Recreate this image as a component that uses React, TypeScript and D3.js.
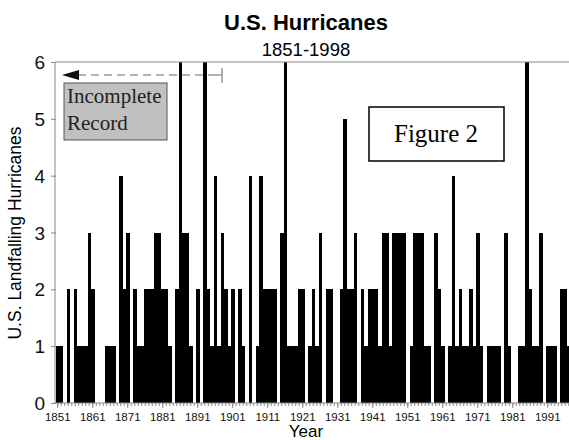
import { useRef, useMemo, useEffect } from 'react';
import * as d3 from 'd3';

// U.S. landfalling hurricanes per year, 1851-1998
const years: number[] = d3.range(1851, 1999);
const counts: number[] = [
  1, 1, 0, 2, 0, 2, 1, 1, 1, 3, // 1851-1860
  2, 0, 0, 0, 1, 1, 1, 0, 4, 2, // 1861-1870
  3, 0, 2, 1, 1, 2, 2, 2, 3, 3, // 1871-1880
  2, 2, 1, 0, 2, 6, 3, 3, 1, 0, // 1881-1890
  2, 0, 6, 2, 1, 4, 1, 3, 2, 1, // 1891-1900
  2, 0, 2, 1, 0, 4, 0, 1, 4, 2, // 1901-1910
  2, 2, 2, 0, 3, 6, 1, 1, 1, 2, // 1911-1920
  2, 0, 1, 2, 1, 3, 0, 2, 2, 0, // 1921-1930
  0, 2, 5, 2, 2, 3, 0, 2, 1, 2, // 1931-1940
  2, 2, 1, 3, 3, 1, 3, 3, 3, 3, // 1941-1950
  0, 1, 3, 3, 3, 1, 1, 0, 3, 2, // 1951-1960
  1, 0, 1, 4, 1, 2, 1, 1, 2, 1, // 1961-1970
  3, 1, 0, 1, 1, 1, 1, 0, 3, 1, // 1971-1980
  0, 0, 1, 1, 6, 2, 1, 1, 3, 0, // 1981-1990
  1, 1, 1, 0, 2, 2, 1, 3,       // 1991-1998
];
const tickYears: number[] = [1851, 1861, 1871, 1881, 1891, 1901, 1911, 1921, 1931, 1941, 1951, 1961, 1971, 1981, 1991];
const yTicks: number[] = [0, 1, 2, 3, 4, 5, 6];

const sans = '"Liberation Sans", Arial, sans-serif';
const serif = '"Liberation Serif", "Times New Roman", serif';

const App = () => {
  const width = 569;
  const height = 440;
  const left = 56;
  const top = 62;
  const bottom = 403;
  const axisX = 55;

  const axesRef = useRef<SVGGElement>(null);

  const xScale = useMemo(() => d3.scaleBand<number>()
    .domain(years)
    .range([left, left + years.length * 3.5])
    .padding(0), []);

  const yScale = useMemo(() => d3.scaleLinear()
    .domain([0, 6])
    .range([bottom, top])
    .clamp(true), []);

  useEffect(() => {
    const g = d3.select(axesRef.current);
    g.selectAll('*').remove();
    const gray = '#8a8a8a';

    // Y AXIS
    g.append('g')
      .attr('transform', `translate(${axisX},0)`)
      .call(d3.axisLeft(yScale).tickValues(yTicks).tickSize(4).tickPadding(8).tickFormat(d3.format('d')))
      .call(s => s.select('.domain').attr('stroke', gray).attr('d', `M0,${top}V${bottom}`))
      .call(s => s.selectAll('.tick line').attr('stroke', gray).attr('x2', -4).attr('x1', 1))
      .call(s => s.selectAll('.tick text')
        .attr('font-family', sans).attr('font-size', 19).attr('fill', '#111').attr('x', -10).attr('dy', '0.35em'));

    // top frame line
    g.append('line')
      .attr('x1', axisX).attr('x2', width).attr('y1', top).attr('y2', top)
      .attr('stroke', gray);

    // X AXIS minor (every year)
    g.append('g')
      .attr('transform', `translate(0,${bottom})`)
      .call(d3.axisBottom(xScale).tickValues(years).tickSize(3).tickFormat(() => ''))
      .call(s => s.select('.domain').attr('stroke', gray).attr('d', `M${axisX},0H${width}`))
      .call(s => s.selectAll('.tick line').attr('stroke', gray));

    // X AXIS major
    g.append('g')
      .attr('transform', `translate(0,${bottom})`)
      .call(d3.axisBottom(xScale).tickValues(tickYears).tickSize(5).tickPadding(5))
      .call(s => s.select('.domain').remove())
      .call(s => s.selectAll('.tick line').attr('stroke', gray))
      .call(s => s.selectAll('.tick text')
        .attr('font-family', sans).attr('font-size', 11.5).attr('fill', '#111'));
  }, [xScale, yScale]);

  const bars = years.map((yr, i) => (
    counts[i] > 0 ? (
      <rect
        key={yr}
        x={xScale(yr)}
        y={yScale(counts[i])}
        width={xScale.bandwidth()}
        height={bottom - yScale(counts[i])}
        fill="#000"
        shapeRendering="crispEdges"
      />
    ) : null
  ));

  return (
    <svg width={width} height={height} style={{ position: 'absolute', left: 0, top: 0, background: '#fff' }}>
      <rect x={0} y={0} width={width} height={height} fill="#fff" />
      <text x={306} y={30} textAnchor="middle" fontFamily={sans} fontWeight="bold" fontSize={22}>U.S. Hurricanes</text>
      <text x={306} y={56} textAnchor="middle" fontFamily={sans} fontSize={18.5}>1851-1998</text>

      <g>{bars}</g>
      <g ref={axesRef} />

      <text x={306} y={437} textAnchor="middle" fontFamily={sans} fontSize={17}>Year</text>
      <text transform="translate(21,233) rotate(-90)" textAnchor="middle" fontFamily={sans} fontSize={17.5}>
        U.S. Landfalling Hurricanes
      </text>

      {/* incomplete record marker */}
      <line x1={78} x2={214} y1={75} y2={75} stroke="#999" strokeWidth={1.5} strokeDasharray="8,5" />
      <line x1={214} x2={222} y1={75} y2={75} stroke="#999" strokeWidth={1.5} />
      <line x1={222} x2={222} y1={68} y2={83} stroke="#999" strokeWidth={1.5} />
      <polygon points="62,75 79,70 79,80" fill="#111" />
      <rect x={64} y={83} width={103} height={57} fill="#c0c0c0" stroke="#555" strokeWidth={1} />
      <text x={67} y={103} fontFamily={serif} fontSize={21} fill="#222">Incomplete</text>
      <text x={67} y={130} fontFamily={serif} fontSize={21} fill="#222">Record</text>

      <rect x={369} y={107} width={135} height={54} fill="#fff" stroke="#000" strokeWidth={1.5} />
      <text x={436} y={142} textAnchor="middle" fontFamily={serif} fontSize={25}>Figure 2</text>
    </svg>
  );
};

export default App;
